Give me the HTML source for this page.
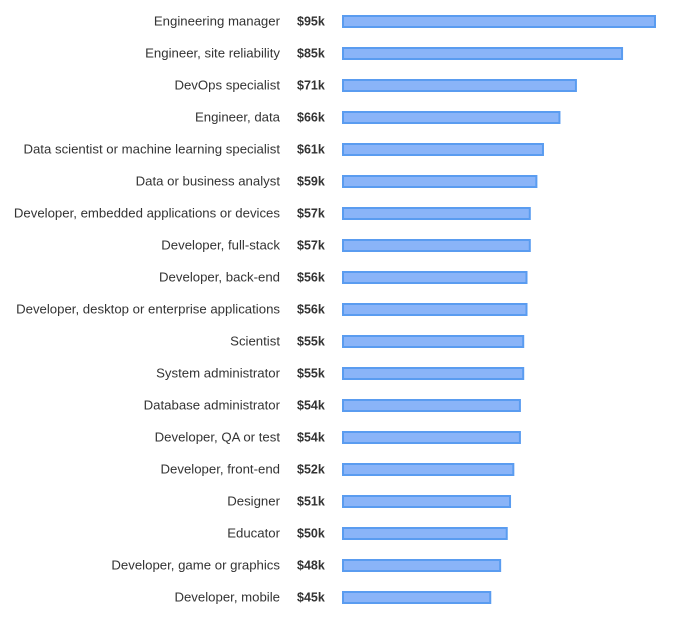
<!DOCTYPE html>
<html><head><meta charset="utf-8"><style>
body{margin:0;background:#fff;width:689px;height:619px;overflow:hidden;font-family:"Liberation Sans",sans-serif}
</style></head><body>
<svg width="689" height="619">
<g id="g"></g>
</svg>
<script>
const categories=["Engineering manager","Engineer, site reliability","DevOps specialist","Engineer, data","Data scientist or machine learning specialist","Data or business analyst","Developer, embedded applications or devices","Developer, full-stack","Developer, back-end","Developer, desktop or enterprise applications","Scientist","System administrator","Database administrator","Developer, QA or test","Developer, front-end","Designer","Educator","Developer, game or graphics","Developer, mobile"];
const values=[95,85,71,66,61,59,57,57,56,56,55,55,54,54,52,51,50,48,45];
const valueLabels=["$95k","$85k","$71k","$66k","$61k","$59k","$57k","$57k","$56k","$56k","$55k","$55k","$54k","$54k","$52k","$51k","$50k","$48k","$45k"];
const ns="http://www.w3.org/2000/svg",g=document.getElementById('g');
const x0=342,pxPerK=313/95;
const xs=v=>v*pxPerK;
const ys=i=>21+i*32;
categories.forEach((c,i)=>{
 const y=ys(i);
 const t=document.createElementNS(ns,'text');
 
 
 t.setAttribute('x',280);t.setAttribute('y',y+4.5);t.setAttribute('text-anchor','end');
 t.setAttribute('font-size','13.2');t.setAttribute('fill','#333');t.textContent=c;g.appendChild(t);
 const v=document.createElementNS(ns,'text');
 
 
 v.setAttribute('x',297);v.setAttribute('y',y+4.5);v.setAttribute('font-size','12.5');
 v.setAttribute('font-weight','bold');v.setAttribute('fill','#333');v.textContent=valueLabels[i];g.appendChild(v);
 const r=document.createElementNS(ns,'rect');
 
 
 r.setAttribute('x',x0+1);r.setAttribute('y',y-5);r.setAttribute('width',xs(values[i])-1);r.setAttribute('height',11);
 r.setAttribute('fill','#8ab4f8');r.setAttribute('stroke','#5a9cf0');r.setAttribute('stroke-width','2');g.appendChild(r);
});
</script>
</body></html>
